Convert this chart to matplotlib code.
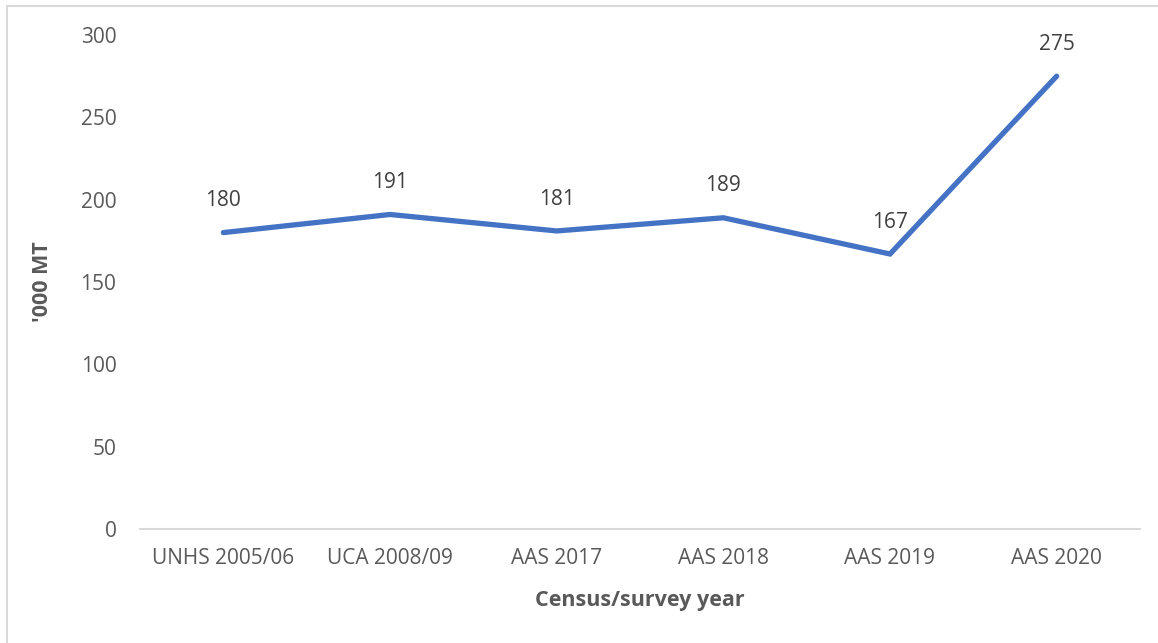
import matplotlib.pyplot as plt
from matplotlib.patches import Rectangle

categories = ['UNHS 2005/06', 'UCA 2008/09', 'AAS 2017', 'AAS 2018', 'AAS 2019', 'AAS 2020']
values = [180, 191, 181, 189, 167, 275]
yticks = [0, 50, 100, 150, 200, 250, 300]

plt.rcParams['font.family'] = ['Open Sans', 'DejaVu Sans']
grey = '#595959'
blue = '#4472C4'

fig = plt.figure(figsize=(11.58, 6.43), dpi=100)
# light frame round the chart area, cut at right/bottom like the source
fig.patches.append(Rectangle((7 / 1158, -0.1), 1.2, (643 - 6) / 643 + 0.1,
                             transform=fig.transFigure, fill=False,
                             edgecolor='#d9d9d9', linewidth=1.5))

ax = fig.add_axes([140 / 1158, 1 - 529 / 643, 1000 / 1158, 494 / 643])
x = list(range(len(categories)))
ax.plot(x, values, color=blue, linewidth=3.8, solid_capstyle='round', solid_joinstyle='miter')

for xi, v in zip(x, values):
    ax.annotate(str(v), (xi, v), xytext=(0, 23), textcoords='offset points',
                ha='center', va='center', fontsize=15, color='#404040')

ax.set_xlim(-0.5, len(categories) - 0.5)
ax.set_ylim(0, 300)
ax.set_xticks(x)
ax.set_xticklabels(categories)
ax.set_yticks(yticks)
for s in ['top', 'right', 'left']:
    ax.spines[s].set_visible(False)
ax.spines['bottom'].set_color('#d9d9d9')
ax.spines['bottom'].set_linewidth(1.5)
ax.tick_params(axis='both', length=0, labelsize=15, labelcolor=grey)
ax.tick_params(axis='y', pad=17)
ax.tick_params(axis='x', pad=14)

ax.set_ylabel("'000 MT", fontsize=15.5, fontweight='bold', color=grey, labelpad=20)
ax.set_xlabel('Census/survey year', fontsize=15.5, fontweight='bold', color=grey, labelpad=15)

fig.savefig('out.png', dpi=100)
